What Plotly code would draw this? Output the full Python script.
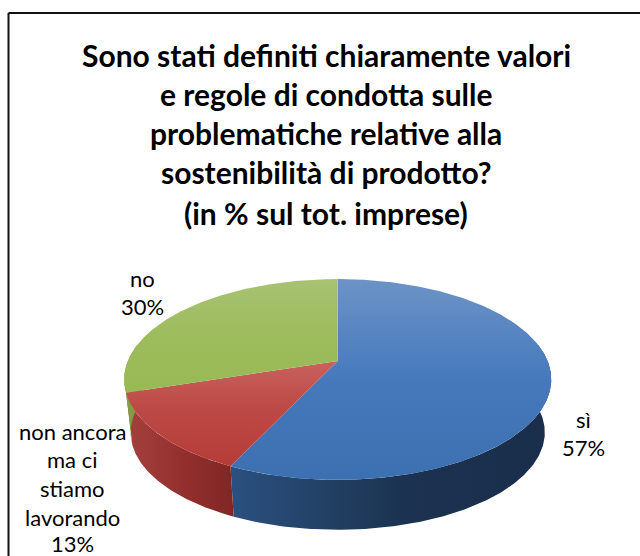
import numpy as np
import plotly.graph_objects as go

# Survey answers, in percent of all firms
categories = ["sì", "non ancora ma ci stiamo lavorando", "no"]
shares = [57, 13, 30]

title_lines = [
    "Sono stati definiti chiaramente valori",
    "e regole di condotta sulle",
    "problematiche relative alla",
    "sostenibilità di prodotto?",
    "(in % sul tot. imprese)",
]
title_rows = [55, 94, 133, 172, 213]

label_lines = [
    ("no", 142, 278), ("30%", 142, 306),
    ("sì", 583, 419), ("57%", 583, 447),
    ("non ancora", 72, 431), ("ma ci", 72, 459), ("stiamo", 72, 488),
    ("lavorando", 72, 517), ("13%", 72, 543),
]

top_colours = [
    [[0, "#6C93C7"], [0.5, "#4679BC"], [1, "#3D70B0"]],
    [[0, "#C8625E"], [0.4, "#BE4B48"], [1, "#B53B37"]],
    [[0, "#A8C273"], [0.5, "#9DBC5C"], [1, "#98B954"]],
]
top_spans = [(279, 480), (361, 468), (279, 395)]
wall_colours = [
    [[0, "#2B5080"], [0.27, "#234266"], [0.55, "#1B3250"], [1, "#1A2E4B"]],
    [[0, "#A5413D"], [0.5, "#94302E"], [1, "#7F2725"]],
    [[0, "#84A046"], [1, "#7D9840"]],
]

# Perspective model of the tilted disc: centre, half-axes and foreshortening
CX, APEX_Y, AX, AY, K = 337.7, 361.0, 209.9, 97.0, 0.184
WALL_SCALE, WALL_APEX_Y = 0.97, 414.5
FRONT_FROM, FRONT_TO = 80.0, 280.0


def project(deg, scale=1.0, apex=APEX_Y):
    a = np.radians(deg)
    x, y = np.sin(a), np.cos(a)
    w = 1 + K * y
    return CX + scale * AX * x / w, apex - scale * AY * y / w


def arc(start, stop):
    return np.linspace(start, stop, max(int(abs(stop - start)) * 2, 2) + 1)


fig = go.Figure()
edges = np.cumsum([0] + shares) * 3.6

# Side walls first, so the top faces cover whatever lies behind them
for start, stop, colours in zip(edges[:-1], edges[1:], wall_colours):
    lo, hi = max(start, FRONT_FROM), min(stop, FRONT_TO)
    if hi <= lo:
        continue
    t = arc(lo, hi)
    x1, y1 = project(t)
    x2, y2 = project(t[::-1], WALL_SCALE, WALL_APEX_Y)
    xs = np.concatenate([x1, x2])
    # Walls run clockwise, so a slice's lighter end is on its left
    fig.add_trace(go.Scatter(
        x=xs, y=np.concatenate([y1, y2]), mode="lines", line=dict(width=0),
        fill="toself", hoverinfo="skip",
        fillgradient=dict(type="horizontal", colorscale=colours,
                          start=float(xs.min()), stop=float(xs.max())),
    ))

# Top faces
for name, start, stop, colours, span in zip(categories, edges[:-1], edges[1:], top_colours, top_spans):
    x, y = project(arc(start, stop))
    fig.add_trace(go.Scatter(
        x=np.concatenate([[CX], x, [CX]]), y=np.concatenate([[APEX_Y], y, [APEX_Y]]),
        mode="lines", line=dict(width=0), fill="toself", name=name, hoverinfo="name",
        fillgradient=dict(type="vertical", colorscale=colours, start=span[0], stop=span[1]),
    ))

notes = [
    dict(x=326, y=row, text=line, showarrow=False, xanchor="center", yanchor="middle",
         font=dict(family="Lato", size=30, color="black", weight="bold"))
    for line, row in zip(title_lines, title_rows)
]
notes += [
    dict(x=x, y=y, text=line, showarrow=False, xanchor="center", yanchor="middle",
         font=dict(family="Lato", size=22, color="black"))
    for line, x, y in label_lines
]

# The chart frame shows only its top and left edges
frame = [
    dict(type="line", x0=8.5, x1=640, y0=13, y1=13, line=dict(color="#111111", width=2)),
    dict(type="line", x0=8.5, x1=8.5, y0=13, y1=556, line=dict(color="#111111", width=2)),
]

fig.update_layout(
    width=640, height=556, margin=dict(l=0, r=0, t=0, b=0),
    paper_bgcolor="white", plot_bgcolor="white", showlegend=False,
    xaxis=dict(range=[0, 640], visible=False, fixedrange=True),
    yaxis=dict(range=[556, 0], visible=False, fixedrange=True),
    annotations=notes, shapes=frame,
)
fig.write_html("out.html", config={"displayModeBar": False})
